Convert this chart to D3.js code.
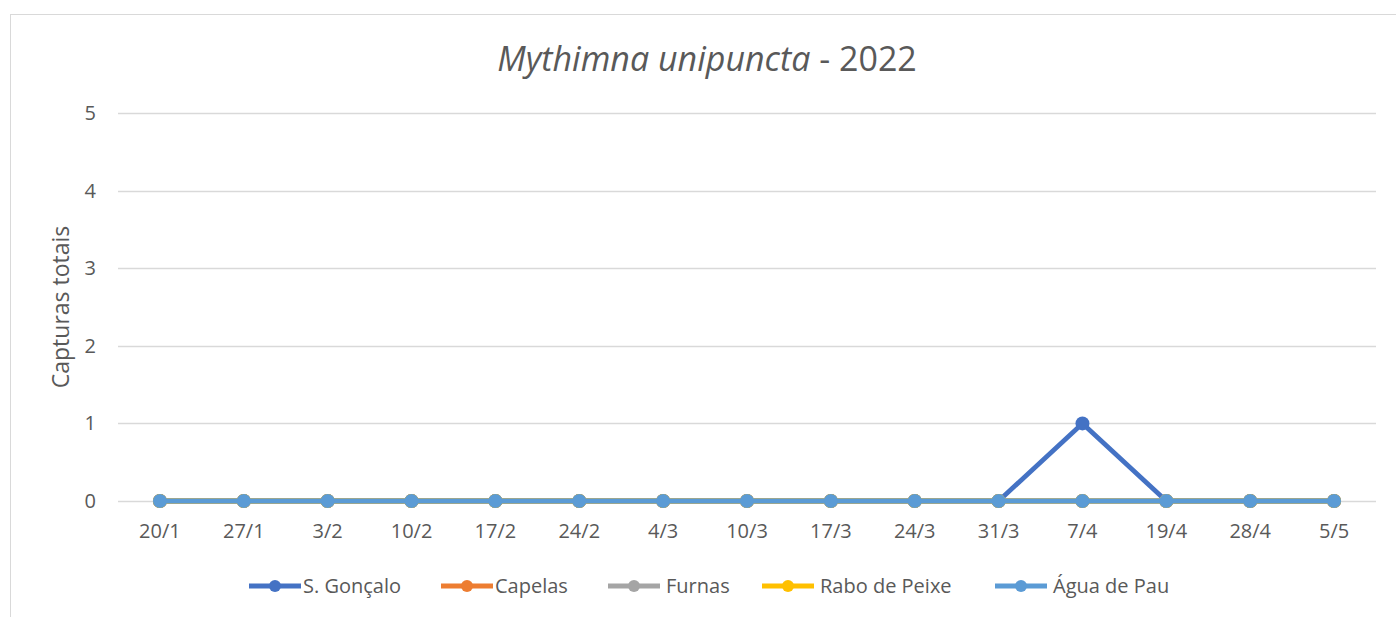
<!DOCTYPE html>
<html lang="pt">
<head>
<meta charset="utf-8">
<title>Mythimna unipuncta - 2022</title>
<script src="https://cdnjs.cloudflare.com/ajax/libs/d3/7.8.5/d3.min.js"></script>
<style>
  body { margin: 0; background: #fff; overflow: hidden; }
  svg { display: block; }
  svg text { font-family: "Open Sans", "DejaVu Sans", sans-serif; fill: #595959; }
</style>
</head>
<body>
<div id="chart"></div>
<script>
// dados
const datas = ["20/1", "27/1", "3/2", "10/2", "17/2", "24/2", "4/3", "10/3", "17/3", "24/3", "31/3", "7/4", "19/4", "28/4", "5/5"];
const sGoncalo    = [0, 0, 0, 0, 0, 0, 0, 0, 0, 0, 0, 1, 0, 0, 0];
const capelas     = [0, 0, 0, 0, 0, 0, 0, 0, 0, 0, 0, 0, 0, 0, 0];
const furnas      = [0, 0, 0, 0, 0, 0, 0, 0, 0, 0, 0, 0, 0, 0, 0];
const raboDePeixe = [0, 0, 0, 0, 0, 0, 0, 0, 0, 0, 0, 0, 0, 0, 0];
const aguaDePau   = [0, 0, 0, 0, 0, 0, 0, 0, 0, 0, 0, 0, 0, 0, 0];
const yTicks = [0, 1, 2, 3, 4, 5];

const series = [
  { name: "S. Gonçalo", values: sGoncalo, color: "#4472C4" },
  { name: "Capelas", values: capelas, color: "#ED7D31" },
  { name: "Furnas", values: furnas, color: "#A5A5A5" },
  { name: "Rabo de Peixe", values: raboDePeixe, color: "#FFC000" },
  { name: "Água de Pau", values: aguaDePau, color: "#5B9BD5" }
];

const W = 1396, H = 617;
const plotLeft = 118, plotRight = 1376, plotTop = 113, plotBottom = 501;

const svg = d3.select("#chart").append("svg")
  .attr("width", W).attr("height", H);

// moldura do gráfico
svg.append("rect")
  .attr("x", 10.5).attr("y", 14.5)
  .attr("width", 1400).attr("height", 620)
  .attr("fill", "none").attr("stroke", "#D9D9D9").attr("stroke-width", 1);

const x = d3.scaleBand().domain(datas).range([plotLeft, plotRight]);
const y = d3.scaleLinear().domain([0, 5]).range([plotBottom, plotTop]);
const cx = d => x(d) + x.bandwidth() / 2;

// grelha
svg.append("g")
  .selectAll("line")
  .data(yTicks)
  .enter().append("line")
  .attr("x1", plotLeft).attr("x2", plotRight)
  .attr("y1", d => Math.round(y(d)) + 0.5)
  .attr("y2", d => Math.round(y(d)) + 0.5)
  .attr("stroke", "#D9D9D9").attr("stroke-width", 1.3);

// eixo y
svg.append("g")
  .selectAll("text")
  .data(yTicks)
  .enter().append("text")
  .attr("x", 96).attr("y", d => y(d))
  .attr("dy", "0.35em")
  .attr("text-anchor", "end")
  .style("font-size", "20px")
  .text(d => d);

// eixo x
svg.append("g")
  .selectAll("text")
  .data(datas)
  .enter().append("text")
  .attr("x", d => cx(d)).attr("y", 531)
  .attr("dy", "0.35em")
  .attr("text-anchor", "middle")
  .style("font-size", "20px")
  .text(d => d);

// título
const title = svg.append("text")
  .attr("x", 707).attr("y", 59)
  .attr("dy", "0.35em")
  .attr("text-anchor", "middle")
  .style("font-size", "34px");
title.append("tspan").style("font-style", "italic").text("Mythimna unipuncta");
title.append("tspan").text(" - 2022");

// título do eixo y
svg.append("text")
  .attr("transform", "translate(61," + ((plotTop + plotBottom) / 2) + ") rotate(-90)")
  .attr("dy", "0.35em")
  .attr("text-anchor", "middle")
  .style("font-size", "23px")
  .text("Capturas totais");

// linhas
const line = d3.line()
  .x((v, i) => cx(datas[i]))
  .y(v => y(v));

series.forEach(s => {
  const g = svg.append("g");
  g.append("path")
    .attr("d", line(s.values))
    .attr("fill", "none")
    .attr("stroke", s.color)
    .attr("stroke-width", 4.8)
    .attr("stroke-linejoin", "round");
  g.selectAll("circle")
    .data(s.values)
    .enter().append("circle")
    .attr("cx", (v, i) => cx(datas[i]))
    .attr("cy", v => y(v))
    .attr("r", 7)
    .attr("fill", s.color);
});

// legenda
const legendX = [249, 441, 608, 762, 995];
const legend = svg.append("g");
series.forEach((s, i) => {
  const g = legend.append("g").attr("transform", "translate(" + legendX[i] + ",586)");
  g.append("line").attr("x1", 0).attr("x2", 52).attr("y1", 0).attr("y2", 0)
    .attr("stroke", s.color).attr("stroke-width", 4.8);
  g.append("circle").attr("cx", 26).attr("cy", 0).attr("r", 6).attr("fill", s.color);
  g.append("text").attr("x", i < 2 ? 54 : 58).attr("y", 0).attr("dy", "0.35em")
    .style("font-size", "20px")
    .text(s.name);
});
</script>
</body>
</html>
